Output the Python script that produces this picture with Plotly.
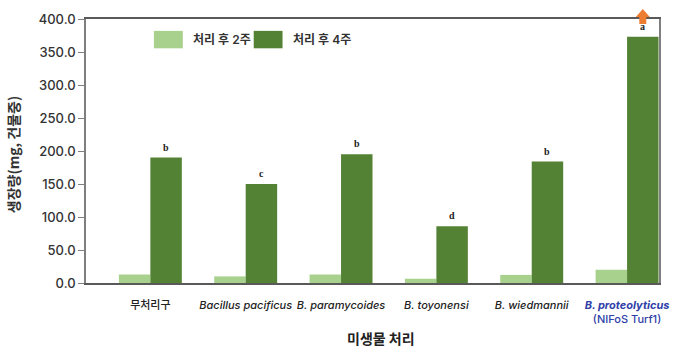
import plotly.graph_objects as go

categories = ["무처리구", "Bacillus pacificus", "B. paramycoides", "B. toyonensi", "B. wiedmannii", "B. proteolyticus (NIFoS Turf1)"]
tick_labels = [
    "무처리구",
    "<i>Bacillus pacificus</i>",
    "<i>B. paramycoides</i>",
    "<i>B. toyonensi</i>",
    "<i>B. wiedmannii</i>",
    "<span style='color:#2F40A8'><b><i>B. proteolyticus</i></b><br>(NIFoS Turf1)</span>",
]
week2 = [13.0, 10.0, 13.0, 6.5, 12.3, 20.0]
week4 = [190.0, 150.0, 195.0, 86.0, 184.0, 373.0]
letters = ["b", "c", "b", "d", "b", "a"]
series_names = ["처리 후 2주", "처리 후 4주"]

LIGHT = "#A9D18E"
DARK = "#548235"
FONT = "Inter, Noto Sans CJK KR, sans-serif"
xpos = list(range(len(categories)))
XRANGE = [-0.675, 5.335]

fig = go.Figure()
fig.add_trace(go.Bar(x=xpos, y=week2, name=series_names[0], marker_color=LIGHT,
                     marker_line_width=0, hoverinfo="skip"))
fig.add_trace(go.Bar(x=xpos, y=week4, name=series_names[1], marker_color=DARK,
                     marker_line_width=0, hoverinfo="skip"))

bar_w = 0.33
for i, (v, t) in enumerate(zip(week4, letters)):
    fig.add_annotation(x=i + bar_w / 2, y=v, text=f"<b>{t}</b>", showarrow=False,
                       yanchor="bottom", yshift=3,
                       font=dict(family="Liberation Serif, Times New Roman, serif", size=10, color="#222"))

# orange up arrow above the highest bar (pixel-sized shape, paper anchored so it is not clipped)
top_i = week4.index(max(week4))
arrow_x = (top_i + bar_w / 2 - XRANGE[0]) / (XRANGE[1] - XRANGE[0])
fig.add_shape(type="path", xref="paper", yref="paper", xsizemode="pixel", ysizemode="pixel",
              xanchor=arrow_x, yanchor=1,
              path="M -3.5,-5 L 3.5,-5 L 3.5,2 L 7,2 L 0,10 L -7,2 L -3.5,2 Z",
              fillcolor="#ED7D31", line=dict(width=0), layer="above")

# custom legend
legend_items = [(0.1185, 0.169, 0.183, LIGHT, series_names[0]),
                (0.2927, 0.343, 0.357, DARK, series_names[1])]
for x0, x1, xt, col, name in legend_items:
    fig.add_shape(type="rect", xref="paper", yref="paper", x0=x0, x1=x1, y0=0.889, y1=0.955,
                  fillcolor=col, line=dict(width=0))
    fig.add_annotation(xref="paper", yref="paper", x=xt, y=0.922, text=name, showarrow=False,
                       xanchor="left", yanchor="middle",
                       font=dict(family=FONT, size=12, color="#333", weight=600))

# axis titles
fig.add_annotation(xref="paper", yref="paper", x=-0.127, y=0.485, text="<b>생장량(mg, 건물중)</b>",
                   textangle=-90, showarrow=False, xanchor="center", yanchor="middle",
                   font=dict(family="Noto Sans CJK KR, sans-serif", size=14, color="#333"))
fig.add_annotation(xref="paper", yref="paper", x=0.514, y=-0.21, text="<b>미생물 처리</b>",
                   showarrow=False, xanchor="center", yanchor="middle",
                   font=dict(family="Noto Sans CJK KR, sans-serif", size=14, color="#222"))

fig.update_layout(
    width=680, height=354,
    margin=dict(l=86, r=20, t=11, b=71),
    paper_bgcolor="white", plot_bgcolor="white",
    barmode="group", bargap=0.34, bargroupgap=0,
    showlegend=False,
    font=dict(family=FONT, color="#333"),
)
fig.update_xaxes(range=XRANGE, tickmode="array", tickvals=xpos, ticktext=tick_labels,
                 showgrid=False, showline=True, linecolor="#595959", linewidth=1.5, mirror=True,
                 ticks="", ticklabelstandoff=11, zeroline=False,
                 tickfont=dict(family="Inter, Noto Sans CJK KR, sans-serif", size=11, color="#222", weight=500))
fig.update_yaxes(range=[0, 400], tickmode="linear", tick0=0, dtick=50, tickformat=".1f",
                 showgrid=False, showline=True, linecolor="#7F7F7F", linewidth=1.5, mirror=True,
                 ticks="outside", ticklen=6, tickcolor="#7F7F7F", zeroline=False,
                 tickfont=dict(family=FONT, size=13, color="#333", weight=500))

fig.write_html("out.html")
